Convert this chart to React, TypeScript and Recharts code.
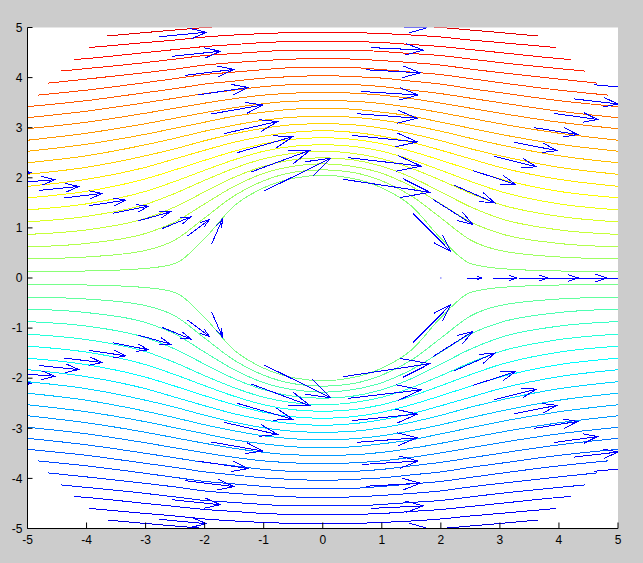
import React from 'react';
import { LineChart, Line, XAxis, YAxis, CartesianGrid, ReferenceLine } from 'recharts';

// x positions where every streamline is sampled
const streamX = [-5, -4, -3, -2.5, -2, -1.5, -1, -0.5, 0, 0.5, 1, 1.5, 2, 2.5, 3, 4, 5];

// stream function value of each contour level (upper half, lower half is negative)
const streamLevels = [
    0.105, 0.315, 0.525, 0.735, 0.945, 1.155, 1.365, 1.575, 1.785, 1.995, 2.205,
    2.415, 2.625, 2.835, 3.045, 3.255, 3.465, 3.675, 3.885, 4.095, 4.305
];

// y of each upper streamline at streamX (null = outside the domain)
const upperLines = [
    [0.13, 0.14, 0.19, 0.29, 0.79, 1.44, 1.80, 1.99, 2.05, 1.99, 1.80, 1.44, 0.79, 0.29, 0.19, 0.14, 0.13],
    [0.38, 0.42, 0.55, 0.76, 1.20, 1.64, 1.94, 2.11, 2.16, 2.11, 1.94, 1.64, 1.20, 0.76, 0.55, 0.42, 0.38],
    [0.62, 0.69, 0.89, 1.12, 1.48, 1.83, 2.09, 2.23, 2.28, 2.23, 2.09, 1.83, 1.48, 1.12, 0.89, 0.69, 0.62],
    [0.87, 0.96, 1.19, 1.42, 1.72, 2.01, 2.23, 2.36, 2.40, 2.36, 2.23, 2.01, 1.72, 1.42, 1.19, 0.96, 0.87],
    [1.12, 1.23, 1.47, 1.69, 1.95, 2.19, 2.38, 2.49, 2.53, 2.49, 2.38, 2.19, 1.95, 1.69, 1.47, 1.23, 1.12],
    [1.36, 1.48, 1.73, 1.93, 2.15, 2.36, 2.53, 2.63, 2.66, 2.63, 2.53, 2.36, 2.15, 1.93, 1.73, 1.48, 1.36],
    [1.60, 1.73, 1.98, 2.16, 2.35, 2.53, 2.68, 2.77, 2.80, 2.77, 2.68, 2.53, 2.35, 2.16, 1.98, 1.73, 1.60],
    [1.83, 1.97, 2.21, 2.38, 2.55, 2.71, 2.83, 2.91, 2.94, 2.91, 2.83, 2.71, 2.55, 2.38, 2.21, 1.97, 1.83],
    [2.07, 2.21, 2.44, 2.58, 2.74, 2.88, 2.99, 3.06, 3.08, 3.06, 2.99, 2.88, 2.74, 2.58, 2.44, 2.21, 2.07],
    [2.30, 2.44, 2.66, 2.79, 2.93, 3.05, 3.15, 3.21, 3.23, 3.21, 3.15, 3.05, 2.93, 2.79, 2.66, 2.44, 2.30],
    [2.53, 2.67, 2.87, 2.99, 3.11, 3.23, 3.31, 3.37, 3.39, 3.37, 3.31, 3.23, 3.11, 2.99, 2.87, 2.67, 2.53],
    [2.75, 2.89, 3.08, 3.19, 3.30, 3.40, 3.48, 3.53, 3.54, 3.53, 3.48, 3.40, 3.30, 3.19, 3.08, 2.89, 2.75],
    [2.98, 3.11, 3.29, 3.39, 3.49, 3.58, 3.65, 3.69, 3.71, 3.69, 3.65, 3.58, 3.49, 3.39, 3.29, 3.11, 2.98],
    [3.20, 3.33, 3.50, 3.59, 3.68, 3.75, 3.82, 3.86, 3.87, 3.86, 3.82, 3.75, 3.68, 3.59, 3.50, 3.33, 3.20],
    [3.42, 3.54, 3.70, 3.78, 3.87, 3.93, 3.99, 4.02, 4.04, 4.02, 3.99, 3.93, 3.87, 3.78, 3.70, 3.54, 3.42],
    [null, 3.75, 3.90, 3.98, 4.06, 4.11, 4.16, 4.20, 4.21, 4.20, 4.16, 4.11, 4.06, 3.98, 3.90, 3.75, null],
    [null, 3.97, 4.10, 4.17, 4.25, 4.30, 4.34, 4.37, 4.38, 4.37, 4.34, 4.30, 4.25, 4.17, 4.10, 3.97, null],
    [null, 4.18, 4.30, 4.37, 4.44, 4.48, 4.52, 4.55, 4.55, 4.55, 4.52, 4.48, 4.44, 4.37, 4.30, 4.18, null],
    [null, 4.38, 4.50, 4.56, 4.62, 4.66, 4.70, 4.72, 4.73, 4.72, 4.70, 4.66, 4.62, 4.56, 4.50, 4.38, null],
    [null, null, 4.70, 4.75, 4.81, 4.85, 4.88, 4.90, 4.91, 4.90, 4.88, 4.85, 4.81, 4.75, 4.70, null, null],
    [null, null, 4.90, 4.95, 5.00, 5.04, 5.07, 5.09, 5.09, 5.09, 5.07, 5.04, 5.00, 4.95, 4.90, null, null]
];

const lowerLines = [
    [-0.13, -0.14, -0.19, -0.29, -0.79, -1.44, -1.80, -1.99, -2.05, -1.99, -1.80, -1.44, -0.79, -0.29, -0.19, -0.14, -0.13],
    [-0.38, -0.42, -0.55, -0.76, -1.20, -1.64, -1.94, -2.11, -2.16, -2.11, -1.94, -1.64, -1.20, -0.76, -0.55, -0.42, -0.38],
    [-0.62, -0.69, -0.89, -1.12, -1.48, -1.83, -2.09, -2.23, -2.28, -2.23, -2.09, -1.83, -1.48, -1.12, -0.89, -0.69, -0.62],
    [-0.87, -0.96, -1.19, -1.42, -1.72, -2.01, -2.23, -2.36, -2.40, -2.36, -2.23, -2.01, -1.72, -1.42, -1.19, -0.96, -0.87],
    [-1.12, -1.23, -1.47, -1.69, -1.95, -2.19, -2.38, -2.49, -2.53, -2.49, -2.38, -2.19, -1.95, -1.69, -1.47, -1.23, -1.12],
    [-1.36, -1.48, -1.73, -1.93, -2.15, -2.36, -2.53, -2.63, -2.66, -2.63, -2.53, -2.36, -2.15, -1.93, -1.73, -1.48, -1.36],
    [-1.60, -1.73, -1.98, -2.16, -2.35, -2.53, -2.68, -2.77, -2.80, -2.77, -2.68, -2.53, -2.35, -2.16, -1.98, -1.73, -1.60],
    [-1.83, -1.97, -2.21, -2.38, -2.55, -2.71, -2.83, -2.91, -2.94, -2.91, -2.83, -2.71, -2.55, -2.38, -2.21, -1.97, -1.83],
    [-2.07, -2.21, -2.44, -2.58, -2.74, -2.88, -2.99, -3.06, -3.08, -3.06, -2.99, -2.88, -2.74, -2.58, -2.44, -2.21, -2.07],
    [-2.30, -2.44, -2.66, -2.79, -2.93, -3.05, -3.15, -3.21, -3.23, -3.21, -3.15, -3.05, -2.93, -2.79, -2.66, -2.44, -2.30],
    [-2.53, -2.67, -2.87, -2.99, -3.11, -3.23, -3.31, -3.37, -3.39, -3.37, -3.31, -3.23, -3.11, -2.99, -2.87, -2.67, -2.53],
    [-2.75, -2.89, -3.08, -3.19, -3.30, -3.40, -3.48, -3.53, -3.54, -3.53, -3.48, -3.40, -3.30, -3.19, -3.08, -2.89, -2.75],
    [-2.98, -3.11, -3.29, -3.39, -3.49, -3.58, -3.65, -3.69, -3.71, -3.69, -3.65, -3.58, -3.49, -3.39, -3.29, -3.11, -2.98],
    [-3.20, -3.33, -3.50, -3.59, -3.68, -3.75, -3.82, -3.86, -3.87, -3.86, -3.82, -3.75, -3.68, -3.59, -3.50, -3.33, -3.20],
    [-3.42, -3.54, -3.70, -3.78, -3.87, -3.93, -3.99, -4.02, -4.04, -4.02, -3.99, -3.93, -3.87, -3.78, -3.70, -3.54, -3.42],
    [null, -3.75, -3.90, -3.98, -4.06, -4.11, -4.16, -4.20, -4.21, -4.20, -4.16, -4.11, -4.06, -3.98, -3.90, -3.75, null],
    [null, -3.97, -4.10, -4.17, -4.25, -4.30, -4.34, -4.37, -4.38, -4.37, -4.34, -4.30, -4.25, -4.17, -4.10, -3.97, null],
    [null, -4.18, -4.30, -4.37, -4.44, -4.48, -4.52, -4.55, -4.55, -4.55, -4.52, -4.48, -4.44, -4.37, -4.30, -4.18, null],
    [null, -4.38, -4.50, -4.56, -4.62, -4.66, -4.70, -4.72, -4.73, -4.72, -4.70, -4.66, -4.62, -4.56, -4.50, -4.38, null],
    [null, null, -4.70, -4.75, -4.81, -4.85, -4.88, -4.90, -4.91, -4.90, -4.88, -4.85, -4.81, -4.75, -4.70, null, null],
    [null, null, -4.90, -4.95, -5.00, -5.04, -5.07, -5.09, -5.09, -5.09, -5.07, -5.04, -5.00, -4.95, -4.90, null, null]
];

// where the outer levels meet the edge of the computed region (|x|, y)
const edgeX = [null, null, null, null, null, null, null, null, null, null, null, null, null, null, null, 4.83, 4.65, 4.44, 4.21, 3.95, 3.65];
const upperEdgeY = [null, null, null, null, null, null, null, null, null, null, null, null, null, null, null, 3.65, 3.89, 4.13, 4.36, 4.60, 4.83];
const lowerEdgeY = [null, null, null, null, null, null, null, null, null, null, null, null, null, null, null, -3.65, -3.89, -4.13, -4.36, -4.60, -4.83];

// velocity arrows on a polar grid: angle (deg) of each ray, radius of each arrow
const quiverAngles = [0, 40, 80, 120, 160, 200, 240, 280, 320];
const quiverRadii = [2, 2.44, 2.89, 3.33, 3.78, 4.22, 4.67, 5.11, 5.56, 6];
const quiverU = [
    [0, 0.25, 0.40, 0.49, 0.55, 0.59, 0.62, 0.64, 0.66, 0.68],
    [0.63, 0.67, 0.70, 0.71, 0.72, 0.73, 0.74, 0.74, 0.74, 0.75],
    [1.47, 1.24, 1.10, 1.02, 0.96, 0.92, 0.89, 0.87, 0.85, 0.84],
    [1.14, 1.01, 0.94, 0.90, 0.87, 0.85, 0.83, 0.82, 0.81, 0.80],
    [0.18, 0.37, 0.48, 0.55, 0.60, 0.63, 0.65, 0.67, 0.69, 0.70],
    [0.18, 0.37, 0.48, 0.55, 0.60, 0.63, 0.65, 0.67, 0.69, 0.70],
    [1.14, 1.01, 0.94, 0.90, 0.87, 0.85, 0.83, 0.82, 0.81, 0.80],
    [1.47, 1.24, 1.10, 1.02, 0.96, 0.92, 0.89, 0.87, 0.85, 0.84],
    [0.63, 0.67, 0.70, 0.71, 0.72, 0.73, 0.74, 0.74, 0.74, 0.75]
];
const quiverV = [
    [0, 0, 0, 0, 0, 0, 0, 0, 0, 0],
    [-0.75, -0.50, -0.36, -0.27, -0.21, -0.17, -0.14, -0.12, -0.10, -0.08],
    [-0.26, -0.17, -0.13, -0.09, -0.07, -0.06, -0.05, -0.04, -0.03, -0.03],
    [0.66, 0.44, 0.32, 0.24, 0.18, 0.15, 0.12, 0.10, 0.09, 0.07],
    [0.49, 0.33, 0.23, 0.18, 0.14, 0.11, 0.09, 0.08, 0.06, 0.05],
    [-0.49, -0.33, -0.23, -0.18, -0.14, -0.11, -0.09, -0.08, -0.06, -0.05],
    [-0.66, -0.44, -0.32, -0.24, -0.18, -0.15, -0.12, -0.10, -0.09, -0.07],
    [0.26, 0.17, 0.13, 0.09, 0.07, 0.06, 0.05, 0.04, 0.03, 0.03],
    [0.75, 0.50, 0.36, 0.27, 0.21, 0.17, 0.14, 0.12, 0.10, 0.08]
];

const axisTicks = [-5, -4, -3, -2, -1, 0, 1, 2, 3, 4, 5];

const COLOR_RANGE = 5.33;
const FONT = '"Liberation Sans", Arial, sans-serif';

// matlab jet colormap
function jet(t: number) {
    const c = (v: number) => Math.round(255 * Math.max(0, Math.min(1, v)));
    const r = c(1.5 - Math.abs(4 * t - 3));
    const g = c(1.5 - Math.abs(4 * t - 2));
    const b = c(1.5 - Math.abs(4 * t - 1));
    return `rgb(${r},${g},${b})`;
}

function buildLine(ys: (number | null)[], ex: number | null, ey: number | null) {
    const pts: { x: number; y: number }[] = [];
    if (ex != null && ey != null) pts.push({ x: -ex, y: ey });
    ys.forEach((y, i) => {
        if (y != null) pts.push({ x: streamX[i], y });
    });
    if (ex != null && ey != null) pts.push({ x: ex, y: ey });
    return pts;
}

const streamlines = [
    ...upperLines.map((ys, k) => ({
        id: `u${k}`,
        data: buildLine(ys, edgeX[k], upperEdgeY[k]),
        color: jet(0.5 + streamLevels[k] / (2 * COLOR_RANGE))
    })),
    ...lowerLines.map((ys, k) => ({
        id: `l${k}`,
        data: buildLine(ys, edgeX[k], lowerEdgeY[k]),
        color: jet(0.5 - streamLevels[k] / (2 * COLOR_RANGE))
    }))
];

const arrows = quiverAngles.flatMap((deg, i) =>
    quiverRadii.map((r, k) => {
        const a = (deg * Math.PI) / 180;
        const x = r * Math.cos(a);
        const y = r * Math.sin(a);
        return { id: `${i}-${k}`, x, y, x2: x + quiverU[i][k], y2: y + quiverV[i][k] };
    })
);

// quiver style arrow drawn between the two segment end points
const ArrowShape = (props: any) => {
    const { x1, y1, x2, y2, clipPath } = props;
    const dx = x2 - x1;
    const dy = y2 - y1;
    if (Math.hypot(dx, dy) < 0.5) {
        return <rect x={x1 - 0.5} y={y1 - 0.5} width={1} height={1} fill="#0000ff" clipPath={clipPath} />;
    }
    const a = 0.33;
    const b = 0.33;
    const h1x = x2 - a * (dx + b * dy);
    const h1y = y2 - a * (dy - b * dx);
    const h2x = x2 - a * (dx - b * dy);
    const h2y = y2 - a * (dy + b * dx);
    return (
        <path
            clipPath={clipPath}
            d={`M${x1},${y1}L${x2},${y2}M${h1x},${h1y}L${x2},${y2}L${h2x},${h2y}`}
            stroke="#0000ff"
            strokeWidth={1}
            fill="none"
            shapeRendering="crispEdges"
        />
    );
};

const App: React.FC = () => {
    return (
        <div style={{ position: 'absolute', left: 0, top: 0, width: 643, height: 563, background: '#cccccc' }}>
            <LineChart width={643} height={563} margin={{ top: 27.5, right: 25, bottom: 4.5, left: 0.5 }}>
                <CartesianGrid horizontal={false} vertical={false} fill="#ffffff" stroke="none" />
                <XAxis
                    type="number"
                    dataKey="x"
                    domain={[-5, 5]}
                    ticks={axisTicks}
                    interval={0}
                    allowDataOverflow
                    height={30}
                    tickSize={-6}
                    tickMargin={13}
                    axisLine={{ stroke: '#000' }}
                    tickLine={{ stroke: '#000' }}
                    tick={{ fill: '#000', fontSize: 12, fontFamily: FONT }}
                />
                <YAxis
                    type="number"
                    domain={[-5, 5]}
                    ticks={axisTicks}
                    interval={0}
                    allowDataOverflow
                    width={27}
                    tickSize={-5}
                    tickMargin={10}
                    axisLine={{ stroke: '#000' }}
                    tickLine={{ stroke: '#000' }}
                    tick={{ fill: '#000', fontSize: 12, fontFamily: FONT }}
                />
                {streamlines.map(s => (
                    <Line
                        key={s.id}
                        data={s.data}
                        dataKey="y"
                        type="monotone"
                        stroke={s.color}
                        strokeWidth={1}
                        shapeRendering="crispEdges"
                        dot={false}
                        activeDot={false}
                        isAnimationActive={false}
                    />
                ))}
                {arrows.map(a => (
                    <ReferenceLine
                        key={a.id}
                        segment={[{ x: a.x, y: a.y }, { x: a.x2, y: a.y2 }]}
                        ifOverflow="hidden"
                        shape={ArrowShape}
                    />
                ))}
            </LineChart>
        </div>
    );
};

export default App;
